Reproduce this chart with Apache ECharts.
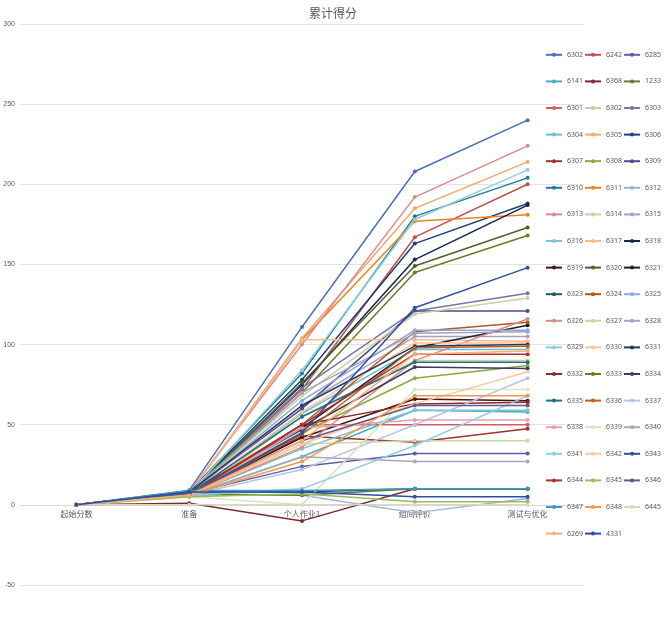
<!DOCTYPE html>
<html><head><meta charset="utf-8">
<script src="https://cdn.jsdelivr.net/npm/echarts@6/dist/echarts.min.js"></script>
<style>html,body{margin:0;padding:0;background:#fff}#c{width:666px;height:628px}</style>
</head><body><div id="c"></div>
<script>
const categories = ['起始分数', '准备', '个人作业1', '组间评价', '测试与优化'];
const names = ['6302','6242','6285','6141','6368','1233','6301','6302\u200b','6303','6304','6305','6306','6307','6308','6309','6310','6311','6312','6313','6314','6315','6316','6317','6318','6319','6320','6321','6323','6324','6325','6326','6327','6328','6329','6330','6331','6332','6333','6334','6335','6336','6337','6338','6339','6340','6341','6342','6343','6344','6345','6346','6347','6348','6445','6269','4331'];
const startScore = [0,0,0,0,0,0,0,0,0,0,0,0,0,0,0,0,0,0,0,0,0,0,0,0,0,0,0,0,0,0,0,0,0,0,0,0,0,0,0,0,0,0,0,0,0,0,0,0,0,0,0,0,0,0,0,0];
const prep =  [9,7,7,6,1,7,7,5,8,6,7,8,6,7,8,8,7,6,8,7,7,6,7,8,7,7,7,8,7,7,6,6,8,7,6,8,6,7,8,7,6,6,6,5,6,6,6,6,6,5,7,9,6,0,6,8];
const hw1 =   [111,72,24,30,-10,70,50,55,73,57,104,78,43,45,60,82,103,6,100,68,62,35,103,75,42,76,48,8,50,65,36,38,70,84,58,62,50,6,47,55,44,22,48,0,30,10,38,45,50,7,40,9,27,0,40,8];
const peer =  [208,167,32,59,10,145,50,90,121,97,185,163,39,79,121,180,177,-5,192,119,105,59,103,153,66,149,98,10,108,109,90,40,107,178,101,99,63,10,86,89,98,50,53,72,27,37,63,123,94,2,62,10,68,0,94,5];
const test =  [240,200,32,58,10,168,50,90,132,97,214,188,47.5,87,121,204,181,4,224,129,105,59,102,187,65,173,112,10,114,109,116,40,108,209,101,100,64,10,85,89,99,79,53,72,27,68,83,148,94,2,62,10,68,0,96,5];
const colors = ['#4A6FB5','#C0504D','#5B5EA6','#4BACC6','#7B2C2C','#6B7B2A','#D0605E','#C8CFA0','#7A72B0','#6CC0D0','#F5A86A','#1F3F7A','#A0302E','#8AAA3E','#4E4A8E','#1F7A9C','#F07F1E','#9DB3D8','#D98A92','#C3D69B','#A5A0C0','#7EC4D8','#F9B98A','#16264A','#4A1212','#4F6228','#1E1E2E','#1F5A5E','#B4561A','#8EA9DB','#E08A8A','#C8D8A0','#A8A0C0','#8ED0D8','#F8C49A','#203864','#8A2A2A','#6B7B2A','#3F3A5A','#1F6E7E','#C0601A','#B4C6E7','#E6A0B0','#D8E4BC','#A8A8B8','#92CDDC','#FBC9A0','#2F4FA0','#B03030','#9BBB59','#5F5A8A','#3A9AC0','#F79646','#D8D8C0','#F9B070','#2A4DAA'];

const series = names.map((n, i) => ({
  name: n, type: 'line',
  data: [startScore[i], prep[i], hw1[i], peer[i], test[i]],
  symbol: 'circle', symbolSize: 4,
  lineStyle: { width: 1.5, color: colors[i] },
  itemStyle: { color: colors[i] },
  emphasis: { disabled: true }
}));

const chart = echarts.init(document.getElementById('c'));
chart.setOption({
  animation: false,
  color: colors,
  title: { text: '累计得分', left: 'center', top: 2, textStyle: { fontFamily: 'Noto Sans CJK SC', fontSize: 12, fontWeight: 'normal', color: '#595959' } },
  legend: {
    data: names, left: 540, top: 37, width: 126, itemGap: 1,
    itemWidth: 16, itemHeight: 5,
    textStyle: { fontSize: 7, color: '#595959', fontFamily: 'Noto Sans', lineHeight: 25.6, height: 25.6 }
  },
  grid: { left: 20, right: 82, top: 24, bottom: 43 },
  xAxis: {
    type: 'category', data: categories, boundaryGap: true,
    offset: -80,
    axisLine: { onZero: false, lineStyle: { color: '#D9D9D9' } },
    axisTick: { show: false },
    axisLabel: { fontSize: 8, color: '#595959', margin: 5, fontFamily: 'Noto Sans CJK SC' }
  },
  yAxis: {
    type: 'value', min: -50, max: 300, interval: 50,
    axisLine: { show: false }, axisTick: { show: false },
    splitLine: { lineStyle: { color: '#E3E3E3' } },
    axisLabel: { fontSize: 7, color: '#595959', margin: 5 }
  },
  series: series
});
</script></body></html>
